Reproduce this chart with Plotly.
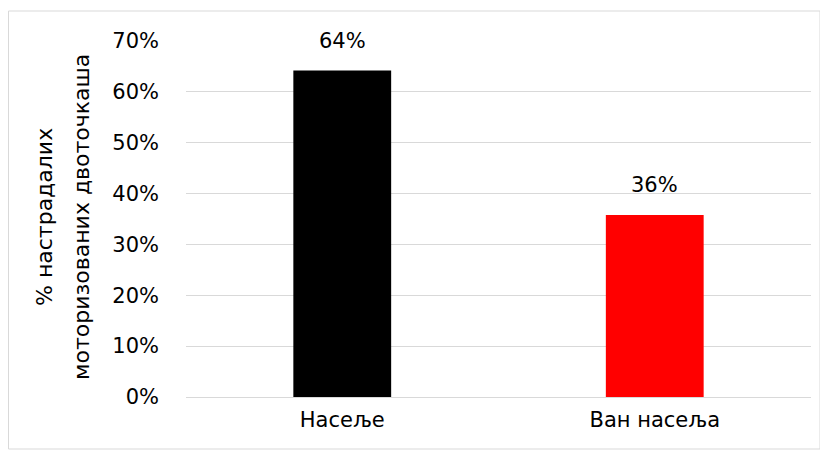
import plotly.graph_objects as go

categories = ["Насеље", "Ван насеља"]
shares = [64.2, 35.8]
labels = ["64%", "36%"]
colors = ["#000000", "#ff0000"]
y_ticks = [0, 10, 20, 30, 40, 50, 60, 70]
y_tick_labels = [f"{t}%" for t in y_ticks]
title_lines = ["% настрадалих", "моторизованих двоточкаша"]

# page has an 8px body margin, so the figure is a bit smaller than the window
W, H = 820, 449
left, right, top, bottom = 178, 17, 33, 60
pw, ph = W - left - right, H - top - bottom
FONT = "DejaVu Sans"

fig = go.Figure(
    data=[
        go.Bar(
            x=categories,
            y=shares,
            marker=dict(color=colors, line=dict(width=0)),
            width=0.313,
            hoverinfo="skip",
        )
    ]
)

for cat, val, lab in zip(categories, shares, labels):
    fig.add_annotation(
        x=cat, y=val, text=lab, showarrow=False,
        yanchor="bottom", yshift=16,
        font=dict(family=FONT, size=21, color="#000000"),
    )

# rotated y-axis title, one annotation per line (pixel centres in figure coords)
for line, (cx, cy) in zip(title_lines, [(36, 209), (73, 209)]):
    fig.add_annotation(
        x=(cx - left) / pw, y=1 - (cy - top) / ph,
        xref="paper", yref="paper",
        xanchor="center", yanchor="middle",
        text=line, textangle=-90, showarrow=False,
        font=dict(family=FONT, size=22, color="#000000"),
    )

# chart border
fig.add_shape(
    type="rect", xref="paper", yref="paper",
    x0=(0.5 - left) / pw, x1=(812 - left) / pw,
    y0=-(441 - top - ph) / ph, y1=(top + ph - 3) / ph,
    line=dict(color="#d9d9d9", width=1),
)

fig.update_layout(
    width=W,
    height=H,
    margin=dict(l=left, r=right, t=top, b=bottom),
    paper_bgcolor="white",
    plot_bgcolor="white",
    font=dict(family=FONT, size=21, color="#000000"),
    showlegend=False,
    xaxis=dict(
        showgrid=False, showline=False, ticks="", ticklabelstandoff=8,
        tickfont=dict(family=FONT, size=21),
    ),
    yaxis=dict(
        range=[0, 70],
        tickvals=y_ticks,
        ticktext=y_tick_labels,
        tickfont=dict(family=FONT, size=21),
        showgrid=True,
        gridcolor="#d9d9d9",
        gridwidth=1,
        zeroline=True,
        zerolinecolor="#d9d9d9",
        zerolinewidth=1,
        showline=False,
        ticks="",
        ticklabelstandoff=26,
    ),
)

fig.write_html("out.html")
